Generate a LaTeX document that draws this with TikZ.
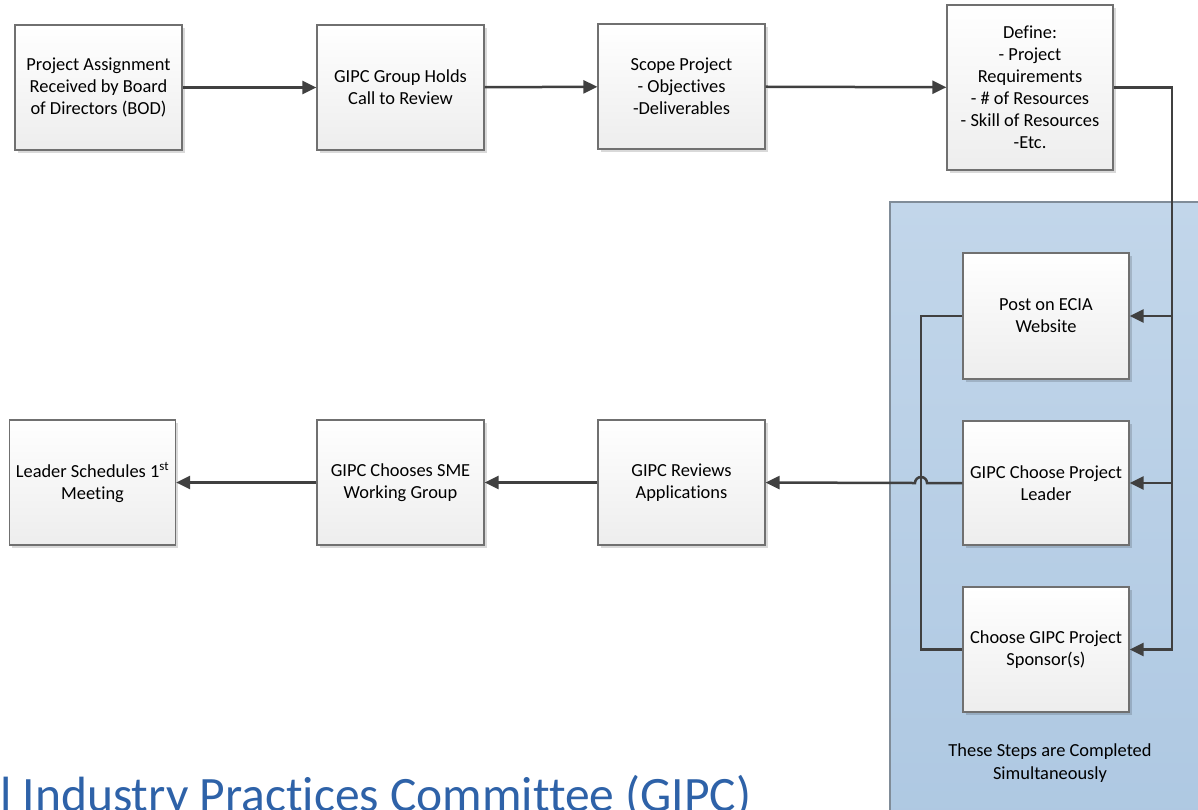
\documentclass[tikz,border=0pt]{standalone}
\usepackage{fontspec}
\setmainfont{Carlito}[Ligatures=NoCommon]
\usepackage{xcolor}
\usepackage{tikz}
\usetikzlibrary{arrows.meta}
\usetikzlibrary{shadows}
\usetikzlibrary{positioning}
\definecolor{linegray}{RGB}{64,64,64}
\definecolor{boxedge}{RGB}{112,112,112}
\definecolor{paneltop}{RGB}{194,214,234}
\definecolor{panelbot}{RGB}{174,200,226}
\definecolor{paneledge}{RGB}{128,140,152}
\definecolor{titleblue}{RGB}{46,98,168}
\tikzset{>={Triangle[length=14pt,width=13pt]}}
\tikzset{stepbox/.style = {rectangle, draw=boxedge, line width=1.2pt, top color=white, bottom color=gray!14, minimum width=167pt, minimum height=125pt, align=center, inner sep=2pt, font=\fontsize{18.4}{22}\selectfont, drop shadow={shadow xshift=2.5pt, shadow yshift=-2.5pt, fill=black, opacity=0.15}}}
\tikzset{flow/.style = {->, draw=linegray, line width=2.5pt}}
\tikzset{wire/.style = {-, draw=linegray, line width=2.5pt}}

\begin{document}
\begin{tikzpicture}[x=1pt, y=-1pt]
\useasboundingbox (0,0) rectangle (1198,809);
\clip (0,0) rectangle (1198,809);
%\node [draw=none, font=\small] at (600,10) {flow};
\draw [draw=paneledge, line width=2pt, top color=paneltop, bottom color=panelbot] (890,202) rectangle (1215,830);
\node [draw=none, align=center, font=\fontsize{18.4}{23}\selectfont] (note) at (1050,763) {These Steps are Completed\\Simultaneously};
\node [draw=none, anchor=base west, inner sep=0, text=titleblue, font=\fontsize{49.5}{54}\selectfont] (title) at (0,811) {l Industry Practices Committee (GIPC)};

\node [stepbox] (bod) at (98.5,87.5) {Project Assignment\\Received by Board\\of Directors (BOD)};
\node [stepbox] (call) at (400.5,87.5) {GIPC Group Holds\\Call to Review};
\node [stepbox] (scope) at (681.5,86.5) {Scope Project\\- Objectives\\-Deliverables};
\node [stepbox, minimum width=166pt, minimum height=165pt] (def) at (1030,87.5) {Define:\\- Project\\Requirements\\- \# of Resources\\- Skill of Resources\\-Etc.};

\node [stepbox, minimum width=166pt, minimum height=126pt] (post) at (1046,316) {Post on ECIA\\Website};
\node [stepbox, minimum width=166pt, minimum height=124pt] (lead) at (1046,483) {GIPC Choose Project\\Leader};
\node [stepbox, minimum width=166pt, minimum height=125pt] (spon) at (1046,649.5) {Choose GIPC Project\\Sponsor(s)};

\node [stepbox] (rev) at (681.5,482.5) {GIPC Reviews\\Applications};
\node [stepbox] (sme) at (400.5,482.5) {GIPC Chooses SME\\Working Group};
\node [stepbox, minimum width=166pt] (meet) at (92.5,482.5) {Leader Schedules 1\textsuperscript{st}\\Meeting};

\coordinate (bus) at (1172,87.5);
\coordinate (jmp) at (921,483);

\draw [flow] (bod) to (call);
\draw [flow] (call) to (scope);
\draw [flow] (scope) to (def);
\draw [flow] (def.east) -- (bus) |- (spon.east);
\draw [flow] (bus |- post.east) -- (post.east);
\draw [flow] (bus |- lead.east) -- (lead.east);
\draw [wire] (post.west) -- (jmp |- post.west) -- (jmp |- spon.west) -- (spon.west);
\draw [flow] (lead.west) -- ([xshift=6pt]jmp) arc [start angle=0, end angle=-180, radius=6] -- (rev.east);
\draw [flow] (rev) to (sme);
\draw [flow] (sme) to (meet);
\end{tikzpicture}
\end{document}
